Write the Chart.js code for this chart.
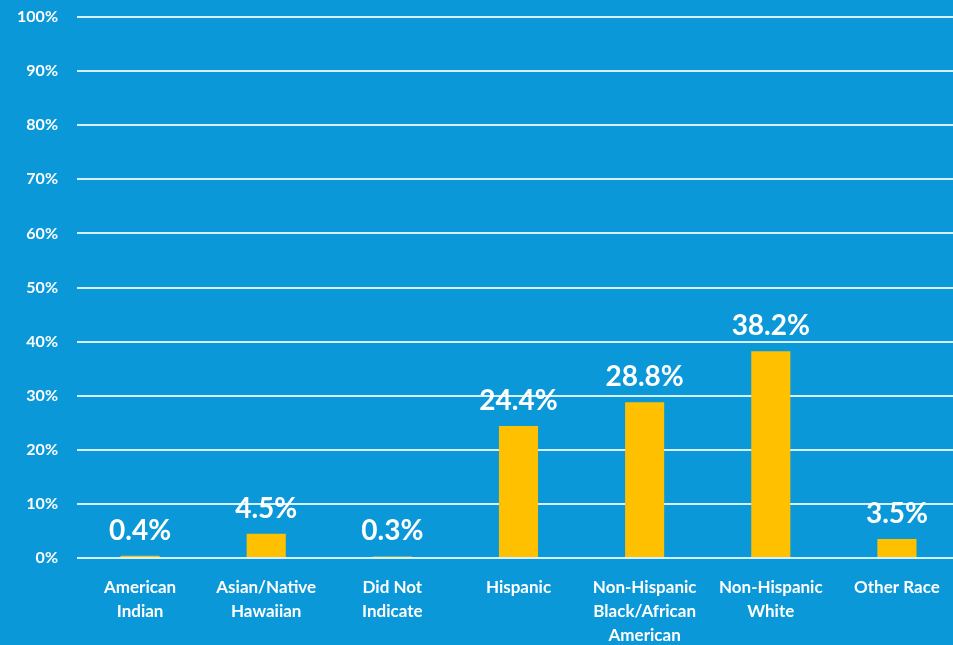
<!DOCTYPE html>
<html>
<head>
<meta charset="utf-8">
<script src="https://cdn.jsdelivr.net/npm/chart.js@4/dist/chart.umd.min.js"></script>
<style>
  html, body { margin:0; padding:0; overflow:hidden; background:#0A98D9; }
  #wrap { width:960px; height:645px; position:relative; }
</style>
</head>
<body>
<div id="wrap"><canvas id="c"></canvas></div>
<script>
const categories = [
  ["American","Indian"],
  ["Asian/Native","Hawaiian"],
  ["Did Not","Indicate"],
  "Hispanic",
  ["Non-Hispanic","Black/African","American"],
  ["Non-Hispanic","White"],
  "Other Race"
];
const values = [0.4, 4.5, 0.3, 24.4, 28.8, 38.2, 3.5];
const yTicks = [0,10,20,30,40,50,60,70,80,90,100];

const FONT = "Lato, 'Open Sans', sans-serif";

const valueLabels = {
  id: 'valueLabels',
  afterDatasetsDraw(chart) {
    const ctx = chart.ctx;
    const meta = chart.getDatasetMeta(0);
    ctx.save();
    ctx.fillStyle = '#FFFFFF';
    ctx.font = "bold 28px " + FONT;
    ctx.textAlign = 'center';
    ctx.textBaseline = 'middle';
    meta.data.forEach((bar, i) => {
      ctx.fillText(values[i].toFixed(1) + '%', bar.x, bar.y - 25);
    });
    ctx.restore();
  }
};

new Chart(document.getElementById('c'), {
  type: 'bar',
  data: {
    labels: categories,
    datasets: [{
      data: values,
      backgroundColor: '#FFC000',
      borderWidth: 0,
      barPercentage: 0.62,
      categoryPercentage: 0.5
    }]
  },
  options: {
    responsive: true,
    maintainAspectRatio: false,
    animation: false,
    layout: { padding: { top: 17, left: 0, right: 0, bottom: 0 } },
    plugins: { legend: { display: false }, tooltip: { enabled: false } },
    scales: {
      x: {
        grid: { display: false, drawTicks: false },
        border: { display: false },
        ticks: {
          color: '#FFFFFF',
          font: { family: FONT, size: 17, weight: 'bold', lineHeight: 1.42 },
          padding: 17,
          maxRotation: 0,
          autoSkip: false
        },
        afterFit(scale) { scale.height = 87; scale.paddingLeft = 0; scale.paddingRight = 0; }
      },
      y: {
        min: 0,
        max: 100,
        afterBuildTicks(scale) { scale.ticks = yTicks.map(v => ({ value: v })); },
        grid: { color: '#D6F0FF', lineWidth: 2, drawTicks: false },
        border: { display: false },
        ticks: {
          color: '#FFFFFF',
          font: { family: FONT, size: 16, weight: 'bold' },
          padding: 19,
          callback: v => v + '%'
        },
        afterFit(scale) { scale.width = 77; scale.paddingTop = 0; scale.paddingBottom = 0; }
      }
    }
  },
  plugins: [valueLabels]
});
</script>
</body>
</html>
